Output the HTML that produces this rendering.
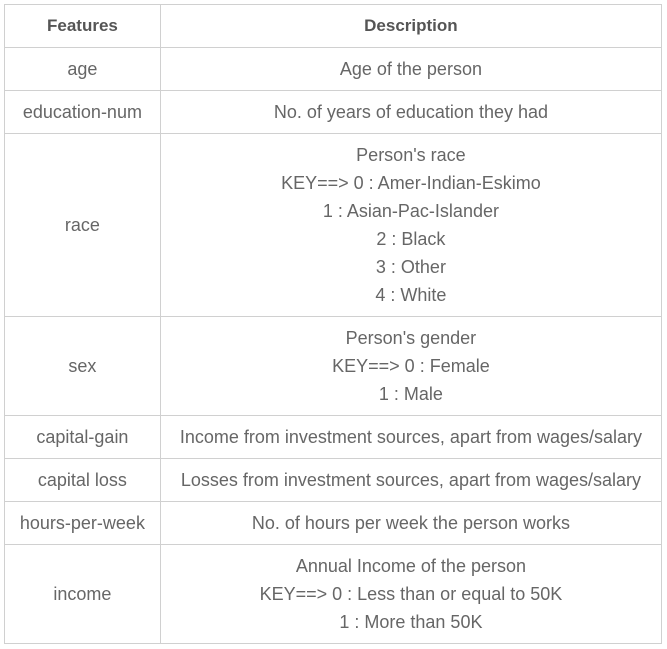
<!DOCTYPE html>
<html><head><meta charset="utf-8"><style>
body{margin:0;background:#fff;width:667px;height:649px;overflow:hidden;font-family:"Liberation Sans",sans-serif;}
table{position:absolute;left:4px;top:4px;border-collapse:collapse;width:658px;}
td,th{border:1px solid #d0d0d0;text-align:center;color:#666;font-size:18px;line-height:28px;padding:0;}
th{color:#555;font-weight:bold;height:42px;font-size:17px;}
td{height:42px;}
</style></head><body>
<table>
<colgroup><col style="width:156px"><col style="width:502px"></colgroup>
<tr><th>Features</th><th>Description</th></tr>
<tr><td>age</td><td>Age of the person</td></tr>
<tr><td>education-num</td><td>No. of years of education they had</td></tr>
<tr><td style="height:182px">race</td><td>Person's race<br>KEY==&gt; 0 : Amer-Indian-Eskimo<br>1 : Asian-Pac-Islander<br>2 : Black<br>3 : Other<br>4 : White</td></tr>
<tr><td style="height:98px">sex</td><td>Person's gender<br>KEY==&gt; 0 : Female<br>1 : Male</td></tr>
<tr><td>capital-gain</td><td>Income from investment sources, apart from wages/salary</td></tr>
<tr><td>capital loss</td><td>Losses from investment sources, apart from wages/salary</td></tr>
<tr><td>hours-per-week</td><td>No. of hours per week the person works</td></tr>
<tr><td style="height:98px">income</td><td>Annual Income of the person<br>KEY==&gt; 0 : Less than or equal to 50K<br>1 : More than 50K</td></tr>
</table>
</body></html>
